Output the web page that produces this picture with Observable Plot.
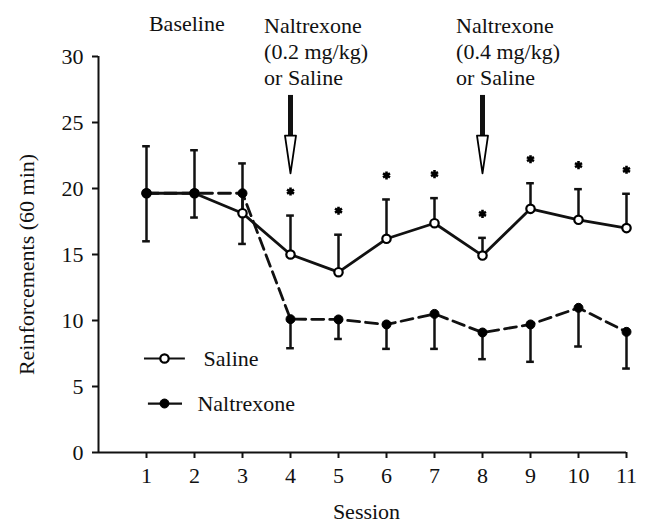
<!DOCTYPE html>
<html><head><meta charset="utf-8">
<script src="https://cdn.jsdelivr.net/npm/d3@7"></script>
<script src="https://cdn.jsdelivr.net/npm/@observablehq/plot@0.6"></script>
<style>
html,body{margin:0;padding:0;background:#fff;}
#chart svg{display:block;}
</style></head><body><div id="chart"></div>
<script>
const sessions = [1, 2, 3, 4, 5, 6, 7, 8, 9, 10, 11];
const saline = [19.64, 19.64, 18.13, 15.0, 13.66, 16.19, 17.37, 14.92, 18.46, 17.63, 17.0];
const salineUpper = [23.2, 22.9, 21.9, 17.95, 16.5, 19.17, 19.27, 16.26, 20.4, 19.95, 19.6];
const naltrexone = [19.64, 19.64, 19.64, 10.1, 10.08, 9.7, 10.5, 9.09, 9.7, 10.96, 9.14];
const naltrexoneLower = [16.0, 17.8, 15.8, 7.9, 8.6, 7.85, 7.85, 7.07, 6.87, 8.03, 6.36];
const significant = [false, false, false, true, true, true, true, true, true, true, true];
const injectionSessions = [4, 8];
const injectionLabels = ["Naltrexone\n(0.2 mg/kg)\nor Saline", "Naltrexone\n(0.4 mg/kg)\nor Saline"];
const yTicks = [0, 5, 10, 15, 20, 25, 30];

const data = sessions.map((s, i) => ({
  session: s, saline: saline[i], salineHi: salineUpper[i],
  nal: naltrexone[i], nalLo: naltrexoneLower[i], sig: significant[i]
}));
const injections = injectionSessions.map((s, i) => ({session: s, label: injectionLabels[i]}));
const capW = 0.08;
const headW = 0.115;
const heads = injections.flatMap((d, i) => [
  {id: i, x: d.session - headW, y: 24.0},
  {id: i, x: d.session + headW, y: 24.0},
  {id: i, x: d.session, y: 21.15},
  {id: i, x: d.session - headW, y: 24.0}
]);

const chart = Plot.plot({
  width: 650, height: 522,
  marginLeft: 98, marginRight: 24, marginTop: 56, marginBottom: 70,
  style: {fontFamily: "'Liberation Serif', 'Times New Roman', serif", fontSize: "22px", color: "#111", background: "#fff", overflow: "visible"},
  x: {domain: [0, 11], axis: null},
  y: {domain: [0, 30], axis: null},
  marks: [
    Plot.axisX({ticks: sessions, tickSize: 6, tickPadding: 9, tickFormat: d => d, label: null, strokeWidth: 2}),
    Plot.axisY({ticks: yTicks, tickSize: 6, tickPadding: 9, label: null, strokeWidth: 2}),
    Plot.ruleY([0], {strokeWidth: 2}),
    Plot.ruleX([0], {strokeWidth: 2}),
    Plot.text(["Reinforcements (60 min)"], {frameAnchor: "left", rotate: -90, dx: -72, dy: 10, textAnchor: "middle", lineAnchor: "middle"}),
    Plot.text(["Session"], {frameAnchor: "bottom", dx: 4, dy: 59, textAnchor: "middle", lineAnchor: "middle"}),
    // error bars
    Plot.ruleX(data, {x: "session", y1: "saline", y2: "salineHi", strokeWidth: 2.5}),
    Plot.ruleY(data, {y: "salineHi", x1: d => d.session - capW, x2: d => d.session + capW, strokeWidth: 2.5}),
    Plot.ruleX(data, {x: "session", y1: "nal", y2: "nalLo", strokeWidth: 2.5}),
    Plot.ruleY(data, {y: "nalLo", x1: d => d.session - capW, x2: d => d.session + capW, strokeWidth: 2.5}),
    // lines
    Plot.line(data, {x: "session", y: "saline", strokeWidth: 2.8}),
    Plot.line(data, {x: "session", y: "nal", strokeWidth: 2.8, strokeDasharray: "12,6"}),
    Plot.dot(data, {x: "session", y: "saline", r: 4.2, fill: "white", stroke: "black", strokeWidth: 2.2}),
    Plot.dot(data, {x: "session", y: "nal", r: 4.5, fill: "black", stroke: "black", strokeWidth: 1}),
    // significance
    Plot.dot(data.filter(d => d.sig), {x: "session", y: "salineHi", dy: -24, symbol: "asterisk", r: 3.8, stroke: "black", strokeWidth: 2.6}),
    // injection arrows
    Plot.ruleX(injections, {x: "session", y1: 27.05, y2: 23.7, strokeWidth: 5}),
    Plot.line(heads, {x: "x", y: "y", z: "id", fill: "white", stroke: "black", strokeWidth: 1.8}),
    Plot.text(injections, {x: d => d.session - 0.55, y: 33.14, text: "label", textAnchor: "start", lineAnchor: "top", lineHeight: 1.18}),
    Plot.text(["Baseline"], {x: 1.84, y: 33.14, textAnchor: "middle", lineAnchor: "top"}),
    // legend
    Plot.ruleY([7.12], {x1: 0.958, x2: 1.81, strokeWidth: 2.2}),
    Plot.dot([7.12], {x: 1.375, y: d => d, r: 4.2, fill: "white", stroke: "black", strokeWidth: 2.2}),
    Plot.text(["Saline"], {x: 2.19, y: 7.12, textAnchor: "start", lineAnchor: "middle"}),
    Plot.ruleY([3.71], {x1: 1.04, x2: 1.75, strokeWidth: 2.2}),
    Plot.dot([3.71], {x: 1.375, y: d => d, r: 4.5, fill: "black", stroke: "black", strokeWidth: 1}),
    Plot.text(["Naltrexone"], {x: 2.06, y: 3.71, textAnchor: "start", lineAnchor: "middle"})
  ]
});
document.getElementById("chart").appendChild(chart);
</script></body></html>
